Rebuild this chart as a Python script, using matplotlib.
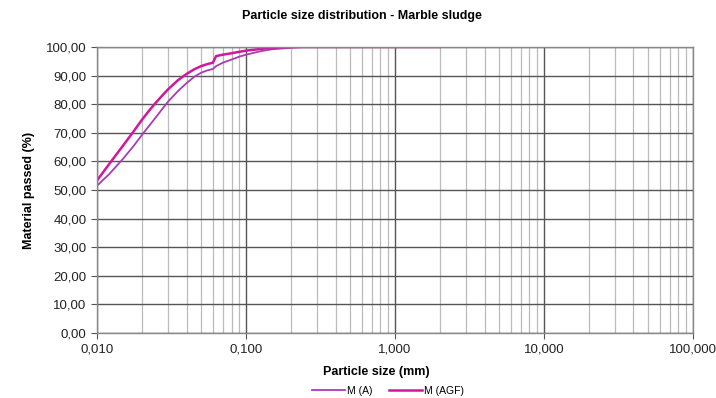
import matplotlib.pyplot as plt
from matplotlib.ticker import FuncFormatter, LogLocator, MultipleLocator

# particle size (mm) and material passed (%)
size_a = [0.010, 0.012, 0.015, 0.0175, 0.020, 0.0225, 0.025, 0.0275, 0.030,
          0.035, 0.040, 0.045, 0.050, 0.055, 0.060, 0.063, 0.070, 0.080,
          0.090, 0.100, 0.125, 0.150, 0.200, 0.250, 0.500, 1.000, 2.000]
passed_a = [51.5, 55.4, 61.0, 65.2, 69.2, 72.6, 75.6, 78.4, 80.9,
            84.6, 87.4, 89.6, 91.0, 91.8, 92.3, 93.3, 94.5, 95.6,
            96.6, 97.3, 98.5, 99.2, 99.7, 100.0, 100.0, 100.0, 100.0]

size_agf = [0.010, 0.012, 0.015, 0.0175, 0.020, 0.0225, 0.025, 0.0275, 0.030,
            0.035, 0.040, 0.045, 0.050, 0.055, 0.060, 0.063, 0.070, 0.080,
            0.090, 0.100, 0.125, 0.150, 0.175, 0.200, 0.500, 1.000, 2.000]
passed_agf = [53.3, 58.9, 65.6, 70.3, 74.5, 77.9, 80.7, 83.1, 85.2,
              88.4, 90.6, 92.2, 93.3, 94.0, 94.5, 96.8, 97.3, 97.8,
              98.3, 98.7, 99.3, 99.7, 99.9, 100.0, 100.0, 100.0, 100.0]

x_ticks = [0.01, 0.1, 1, 10, 100]

plt.rcParams['font.family'] = ['Liberation Sans', 'DejaVu Sans']

fig = plt.figure(figsize=(7.16, 3.98), dpi=100)
ax = fig.add_axes([0.1355, 0.1633, 0.832, 0.7187])

ax.plot(size_a, passed_a, color='#a83cb4', lw=1.3, label='M (A)')
ax.plot(size_agf, passed_agf, color='#d0189c', lw=1.8, label='M (AGF)')

ax.set_xscale('log')
ax.set_xlim(0.01, 100)
ax.set_ylim(0, 100)
ax.set_xticks(x_ticks)
ax.xaxis.set_minor_locator(LogLocator(base=10, subs=range(2, 10)))
ax.yaxis.set_major_locator(MultipleLocator(10))

ax.xaxis.set_major_formatter(FuncFormatter(lambda v, p: f'{v:.3f}'.replace('.', ',')))
ax.xaxis.set_minor_formatter(FuncFormatter(lambda v, p: ''))
ax.yaxis.set_major_formatter(FuncFormatter(lambda v, p: f'{v:.2f}'.replace('.', ',')))

ax.grid(which='major', color='#555555', lw=1.0)
ax.grid(which='minor', axis='x', color='#bbbbbb', lw=0.9)
ax.set_axisbelow(True)

for s in ax.spines.values():
    s.set_color('#888888')
    s.set_linewidth(1.0)
ax.tick_params(which='major', direction='out', length=4, color='#555555',
               labelsize=9.5, labelcolor='#222222')
ax.tick_params(which='minor', direction='out', length=0)

fig.suptitle('Particle size distribution - Marble sludge', fontsize=9,
             fontweight='bold', x=0.506, y=1 - 16 / 398, va='center')
ax.set_xlabel('Particle size (mm)', fontsize=9, fontweight='bold')
ax.xaxis.set_label_coords((376 - 97) / 596, -(372 - 333) / 286)
ax.xaxis.label.set_va('center')
ax.set_ylabel('Material passed (%)', fontsize=9, fontweight='bold', labelpad=8)

fig.legend(*ax.get_legend_handles_labels(), loc='center',
           bbox_to_anchor=(388 / 716, 0.018), ncol=2, frameon=False,
           fontsize=7.5, handlelength=3.2, handletextpad=0.2, columnspacing=1.5,
           borderpad=0, borderaxespad=0)

fig.savefig('out.png', dpi=100)
